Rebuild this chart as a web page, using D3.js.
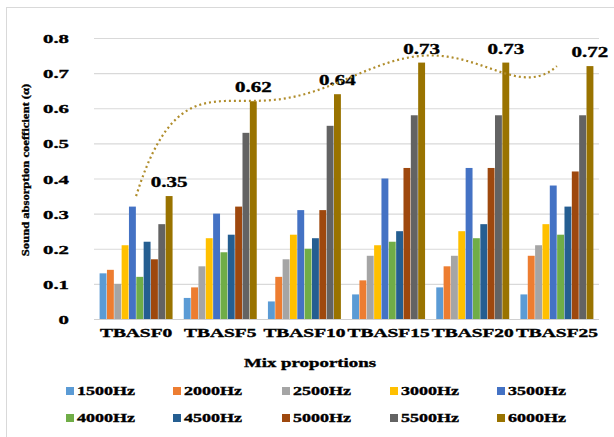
<!DOCTYPE html>
<html>
<head>
<meta charset="utf-8">
<script src="https://cdn.jsdelivr.net/npm/d3@7"></script>
<style>
  body { margin: 0; background: #fff; }
  svg { display: block; }
  text { font-family: "Liberation Serif", "Times New Roman", serif; font-weight: bold; fill: #000;
         stroke: #000; stroke-width: 0.35px; }
</style>
</head>
<body>
<script>
// Mix proportions along the x axis
const categories = ["TBASF0", "TBASF5", "TBASF10", "TBASF15", "TBASF20", "TBASF25"];
// Frequency series (legend order)
const frequencies = ["1500Hz", "2000Hz", "2500Hz", "3000Hz", "3500Hz",
                     "4000Hz", "4500Hz", "5000Hz", "5500Hz", "6000Hz"];
// Sound absorption coefficient per mix, one array per frequency
const hz1500 = [0.13, 0.06, 0.05, 0.07, 0.09, 0.07];
const hz2000 = [0.14, 0.09, 0.12, 0.11, 0.15, 0.18];
const hz2500 = [0.10, 0.15, 0.17, 0.18, 0.18, 0.21];
const hz3000 = [0.21, 0.23, 0.24, 0.21, 0.25, 0.27];
const hz3500 = [0.32, 0.30, 0.31, 0.40, 0.43, 0.38];
const hz4000 = [0.12, 0.19, 0.20, 0.22, 0.23, 0.24];
const hz4500 = [0.22, 0.24, 0.23, 0.25, 0.27, 0.32];
const hz5000 = [0.17, 0.32, 0.31, 0.43, 0.43, 0.42];
const hz5500 = [0.27, 0.53, 0.55, 0.58, 0.58, 0.58];
const hz6000 = [0.35, 0.62, 0.64, 0.73, 0.73, 0.72];
const yTicks = [0, 0.1, 0.2, 0.3, 0.4, 0.5, 0.6, 0.7, 0.8];

const series = [hz1500, hz2000, hz2500, hz3000, hz3500, hz4000, hz4500, hz5000, hz5500, hz6000];
const colors = ["#5B9BD5", "#ED7D31", "#A5A5A5", "#FFC000", "#4472C4",
                "#70AD47", "#255E91", "#9E480E", "#636363", "#997300"];

const W = 614, H = 437;
const plot = { left: 94, right: 599, top: 38, bottom: 319 };

const svg = d3.select("body").append("svg").attr("width", W).attr("height", H);

// chart area frame
svg.append("rect").attr("x", 6.5).attr("y", 7.5).attr("width", 640).attr("height", 460)
  .attr("fill", "#fff").attr("stroke", "#d9d9d9").attr("stroke-width", 1);

const x0 = d3.scaleBand().domain(categories).range([plot.left, plot.right])
  .paddingInner(0.133).paddingOuter(0.0665);
const x1 = d3.scaleBand().domain(frequencies).range([0, x0.bandwidth()]).paddingInner(0.06);
const y = d3.scaleLinear().domain([0, 0.8]).range([plot.bottom, plot.top]);

// horizontal gridlines and tick labels
const yAxis = d3.axisLeft(y).tickValues(yTicks).tickSize(-(plot.right - plot.left))
  .tickFormat(d => d === 0 ? "0" : d3.format(".1f")(d));
const gy = svg.append("g").attr("transform", `translate(${plot.left},0)`).call(yAxis);
gy.select(".domain").remove();
gy.selectAll(".tick line").attr("stroke", "#d9d9d9").attr("stroke-width", 1.2);
gy.selectAll(".tick text").remove();
gy.selectAll(".tick").append("text")
  .attr("transform", "translate(-25,0) scale(1.6,1)")
  .attr("text-anchor", "end").attr("dy", "0.35em")
  .style("font-size", "13px")
  .text(d => d === 0 ? "0" : d3.format(".1f")(d));

// bars
const groups = svg.append("g").selectAll("g").data(categories).join("g")
  .attr("transform", d => `translate(${x0(d)},0)`);
groups.selectAll("rect")
  .data((c, ci) => frequencies.map((f, si) => ({ f, v: series[si][ci], si })))
  .join("rect")
  .attr("x", d => x1(d.f)).attr("width", x1.bandwidth())
  .attr("y", d => y(d.v)).attr("height", d => y(0) - y(d.v))
  .attr("fill", d => colors[d.si]);

// baseline
svg.append("line").attr("x1", plot.left).attr("x2", plot.right)
  .attr("y1", y(0) + 0.5).attr("y2", y(0) + 0.5)
  .attr("stroke", "#d0d0d0").attr("stroke-width", 1.2);

// value labels above the 6000Hz bars
const last = frequencies.length - 1;
svg.append("g").selectAll("text").data(categories).join("text")
  .attr("transform", (c, i) => {
    const cx = x0(c) + x1(frequencies[last]) + x1.bandwidth() / 2;
    return `translate(${cx},${y(hz6000[i]) - 9}) scale(1.5,1)`;
  })
  .attr("text-anchor", "middle").style("font-size", "14px")
  .text((c, i) => d3.format(".2f")(hz6000[i]));

// polynomial trendline (order 5) through the 6000Hz series
function polyFit(xs, ys, order) {
  const n = order + 1;
  const A = Array.from({ length: n }, () => new Array(n + 1).fill(0));
  for (let r = 0; r < n; r++) {
    for (let c = 0; c < n; c++) A[r][c] = d3.sum(xs, x => Math.pow(x, r + c));
    A[r][n] = d3.sum(xs, (x, k) => ys[k] * Math.pow(x, r));
  }
  for (let i = 0; i < n; i++) {
    let p = i;
    for (let k = i + 1; k < n; k++) if (Math.abs(A[k][i]) > Math.abs(A[p][i])) p = k;
    [A[i], A[p]] = [A[p], A[i]];
    for (let k = i + 1; k < n; k++) {
      const f = A[k][i] / A[i][i];
      for (let j = i; j <= n; j++) A[k][j] -= f * A[i][j];
    }
  }
  const coef = new Array(n).fill(0);
  for (let i = n - 1; i >= 0; i--) {
    let s = A[i][n];
    for (let j = i + 1; j < n; j++) s -= A[i][j] * coef[j];
    coef[i] = s / A[i][i];
  }
  return t => coef.reduce((acc, c, k) => acc + c * Math.pow(t, k), 0);
}
const idx = categories.map((c, i) => i + 1);
const trend = polyFit(idx, hz6000, 5);
const xt = d3.scaleLinear().domain([1, categories.length])
  .range([x0(categories[0]) + x0.bandwidth() / 2, x0(categories[categories.length - 1]) + x0.bandwidth() / 2]);
const samples = d3.range(1, categories.length + 0.001, 0.05);
svg.append("path")
  .attr("d", d3.line().x(t => xt(t)).y(t => y(trend(t)))(samples))
  .attr("fill", "none").attr("stroke", "#b08d2c").attr("stroke-width", 2.2)
  .attr("stroke-dasharray", "2,3");

// category labels
svg.append("g").selectAll("text").data(categories).join("text")
  .attr("transform", c => `translate(${x0(c) + x0.bandwidth() / 2},337) scale(1.62,1)`)
  .attr("text-anchor", "middle").style("font-size", "12px")
  .text(c => c);

// axis titles
svg.append("text")
  .attr("transform", "translate(310,367) scale(1.45,1)")
  .attr("text-anchor", "middle").style("font-size", "13px")
  .text("Mix proportions");
svg.append("text")
  .attr("transform", "translate(29,170) rotate(-90) scale(1.2,1)")
  .attr("text-anchor", "middle").style("font-size", "10.5px")
  .text("Sound absorption coefficient (α)");

// legend: two rows of five
const legendX = [66, 173, 282, 390, 497];
const legendY = [391, 418];
const lg = svg.append("g").selectAll("g").data(frequencies).join("g")
  .attr("transform", (f, i) => `translate(${legendX[i % 5]},${legendY[Math.floor(i / 5)]})`);
lg.append("rect").attr("x", 0).attr("y", -4).attr("width", 8).attr("height", 8)
  .attr("fill", (f, i) => colors[i]);
lg.append("text").attr("transform", "translate(11,0) scale(1.5,1)")
  .attr("dy", "0.35em").style("font-size", "12px").text(f => f);
</script>
</body>
</html>
